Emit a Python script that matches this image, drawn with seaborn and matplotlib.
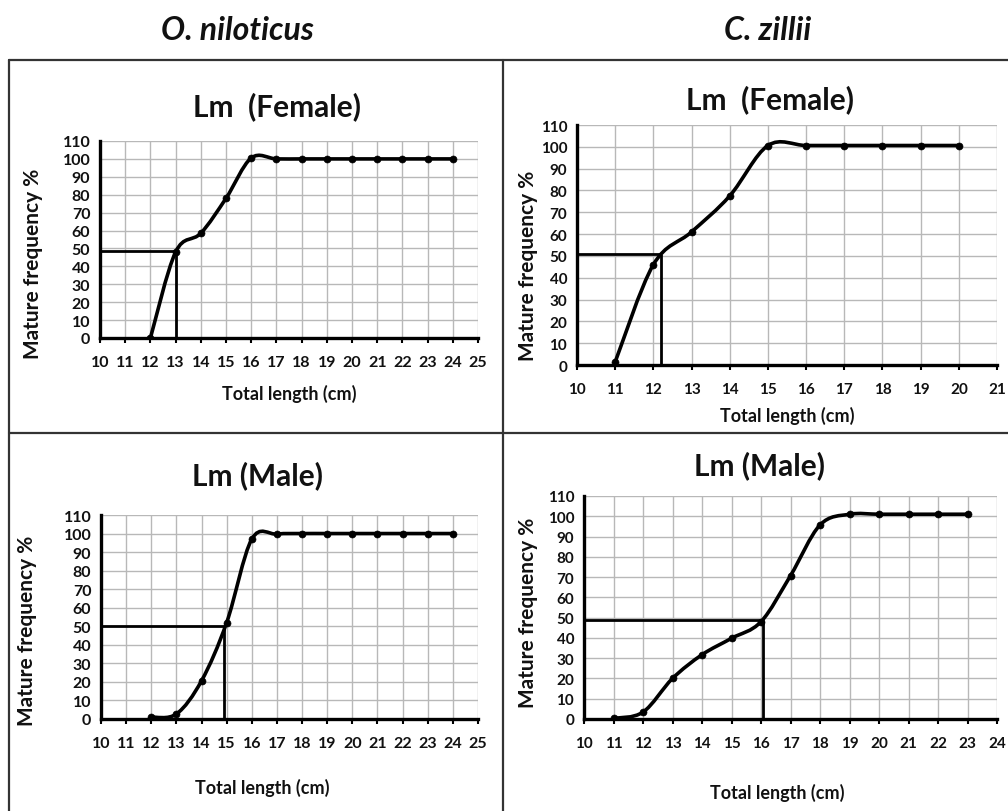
import numpy as np
import pandas as pd
import matplotlib
matplotlib.use("Agg")
import matplotlib.pyplot as plt
import seaborn as sns
from matplotlib.path import Path
from matplotlib.patches import PathPatch
from matplotlib.lines import Line2D

# ---------------- data ----------------
species = ["O. niloticus", "C. zillii"]
panel_titles = ["Lm  (Female)", "Lm  (Female)", "Lm (Male)", "Lm (Male)"]
x_label = "Total length (cm)"
y_label = "Mature frequency %"

on_female_len = [12, 13, 14, 15, 16, 17, 18, 19, 20, 21, 22, 23, 24]
on_female_pct = [0, 48, 58.5, 78, 100.5, 100, 100, 100, 100, 100, 100, 100, 100]
on_female_lm = (13.0, 48.5)

cz_female_len = [11, 12, 13, 14, 15, 16, 17, 18, 19, 20]
cz_female_pct = [1.4, 46, 61, 77.5, 100.6, 100.6, 100.6, 100.6, 100.6, 100.6]
cz_female_lm = (12.2, 51)

on_male_len = [12, 13, 14, 15, 16, 17, 18, 19, 20, 21, 22, 23, 24]
on_male_pct = [1, 2.7, 20.6, 52, 97, 99.7, 100, 100, 100, 100, 100, 100, 100]
on_male_lm = (14.9, 50)

cz_male_len = [11, 12, 13, 14, 15, 16, 17, 18, 19, 20, 21, 22, 23]
cz_male_pct = [0.3, 3.4, 20, 31.7, 39.8, 48, 70.7, 95.7, 101, 101, 101, 101, 101]
cz_male_lm = (16.07, 49)

x_max = [25, 21, 25, 24]
y_ticks = list(range(0, 111, 10))

# ---------------- style ----------------
W, H = 1008, 812
sns.set_theme(style="whitegrid")
plt.rcParams["font.family"] = ["Lato", "DejaVu Sans"]
plt.rcParams["font.weight"] = "bold"

fig = plt.figure(figsize=(W / 100, H / 100), dpi=100)
fig.patch.set_facecolor("white")


def fx(px):
    return px / W


def fy(py):
    return 1 - py / H


# axes boxes in pixel coords: (left, top, right, bottom)
boxes = [(100, 142, 478, 339), (577, 126, 997, 366),
         (101, 516, 478, 720), (584, 497, 997, 720)]
datasets = [(on_female_len, on_female_pct, on_female_lm),
            (cz_female_len, cz_female_pct, cz_female_lm),
            (on_male_len, on_male_pct, on_male_lm),
            (cz_male_len, cz_male_pct, cz_male_lm)]
title_pos = [(277, 107), (770, 100), (258, 476), (760, 466)]
xlabel_pos = [(0.5, 394), (0.5, 416), (0.427, 788), (0.467, 793)]
ylabel_pos = [(33, 264), (528, 266), (27, 631), (528, 613)]
tick_fs = [11.5, 11, 11.5, 11]


def smooth_path(xs, ys):
    pts = np.column_stack([xs, ys]).astype(float)
    n = len(pts)
    verts = [pts[0]]
    codes = [Path.MOVETO]
    for i in range(n - 1):
        p0 = pts[i - 1] if i > 0 else pts[i]
        p1 = pts[i]
        p2 = pts[i + 1]
        p3 = pts[i + 2] if i + 2 < n else pts[i + 1]
        c1 = p1 + (p2 - p0) / 6.0
        c2 = p2 - (p3 - p1) / 6.0
        verts += [c1, c2, p2]
        codes += [Path.CURVE4] * 3
    return Path(verts, codes)


for k, ((l, t, r, b), (xs, ys, lm)) in enumerate(zip(boxes, datasets)):
    ax = fig.add_axes([fx(l), fy(b), fx(r - l), (b - t) / H])
    ax.set_facecolor("white")
    df = pd.DataFrame({"len": xs, "pct": ys})
    # smooth curve through points
    ax.add_patch(PathPatch(smooth_path(xs, ys), facecolor="none",
                           edgecolor="black", lw=2.6, zorder=4,
                           capstyle="round", joinstyle="round"))
    sns.scatterplot(data=df, x="len", y="pct", ax=ax, color="black",
                    s=26, edgecolor="black", zorder=5, legend=False)
    # Lm guide lines
    lx, ly = lm
    ax.plot([10, lx], [ly, ly], color="black", lw=2.0, zorder=3,
            solid_capstyle="butt")
    ax.plot([lx, lx], [0, ly], color="black", lw=2.0, zorder=3,
            solid_capstyle="butt")

    ax.set_xlim(10, x_max[k])
    ax.set_ylim(0, 110)
    ax.set_xticks(range(10, x_max[k] + 1))
    ax.set_yticks(y_ticks)
    ax.grid(True, color="#b8b8b8", lw=1.0, zorder=0)
    ax.set_axisbelow(True)
    for s in ["top", "right"]:
        ax.spines[s].set_visible(False)
    for s in ["left", "bottom"]:
        ax.spines[s].set_visible(True)
        ax.spines[s].set_color("black")
        ax.spines[s].set_linewidth(2.4)
        ax.spines[s].set_zorder(6)
    ax.tick_params(axis="x", length=3.5, width=1.5, color="black",
                   pad=9, labelsize=tick_fs[k], direction="out",
                   bottom=True)
    ax.tick_params(axis="y", length=0, pad=7, labelsize=tick_fs[k])
    for lab in ax.get_xticklabels() + ax.get_yticklabels():
        lab.set_fontweight("bold")
        lab.set_color("#111111")

    # axis labels
    ax.set_xlabel(x_label, fontsize=13, fontweight="bold", color="#111111")
    xl_x, xl_py = xlabel_pos[k]
    ax.xaxis.set_label_coords(xl_x, -(xl_py - b) / (b - t))
    ax.xaxis.label.set_va("center")
    ax.set_ylabel(y_label, fontsize=15, fontweight="bold", color="#111111")
    yl_px, yl_py = ylabel_pos[k]
    ax.yaxis.set_label_coords((yl_px - l) / (r - l), 1 - (yl_py - t) / (b - t))
    ax.yaxis.label.set_va("center")
    ax.yaxis.label.set_ha("center")

    tx, ty = title_pos[k]
    fig.text(fx(tx), fy(ty), panel_titles[k], ha="center", va="center",
             fontsize=21.5, fontweight="bold", color="#111111")

# species headings
fig.text(fx(237), fy(30), species[0], ha="center", va="center",
         fontsize=23, fontweight="bold", style="italic", color="#111111")
fig.text(fx(768), fy(30), species[1], ha="center", va="center",
         fontsize=23, fontweight="bold", style="italic", color="#111111")

# panel frame lines
frame_kw = dict(color="#333333", lw=1.6, transform=fig.transFigure)
fig.add_artist(Line2D([fx(9), fx(1008)], [fy(61), fy(61)], **frame_kw))
fig.add_artist(Line2D([fx(9), fx(9)], [fy(61), fy(812)], **frame_kw))
fig.add_artist(Line2D([fx(503), fx(503)], [fy(61), fy(812)], **frame_kw))
fig.add_artist(Line2D([fx(9), fx(1008)], [fy(434), fy(434)], **frame_kw))

fig.savefig("out.png", dpi=100, facecolor="white")
